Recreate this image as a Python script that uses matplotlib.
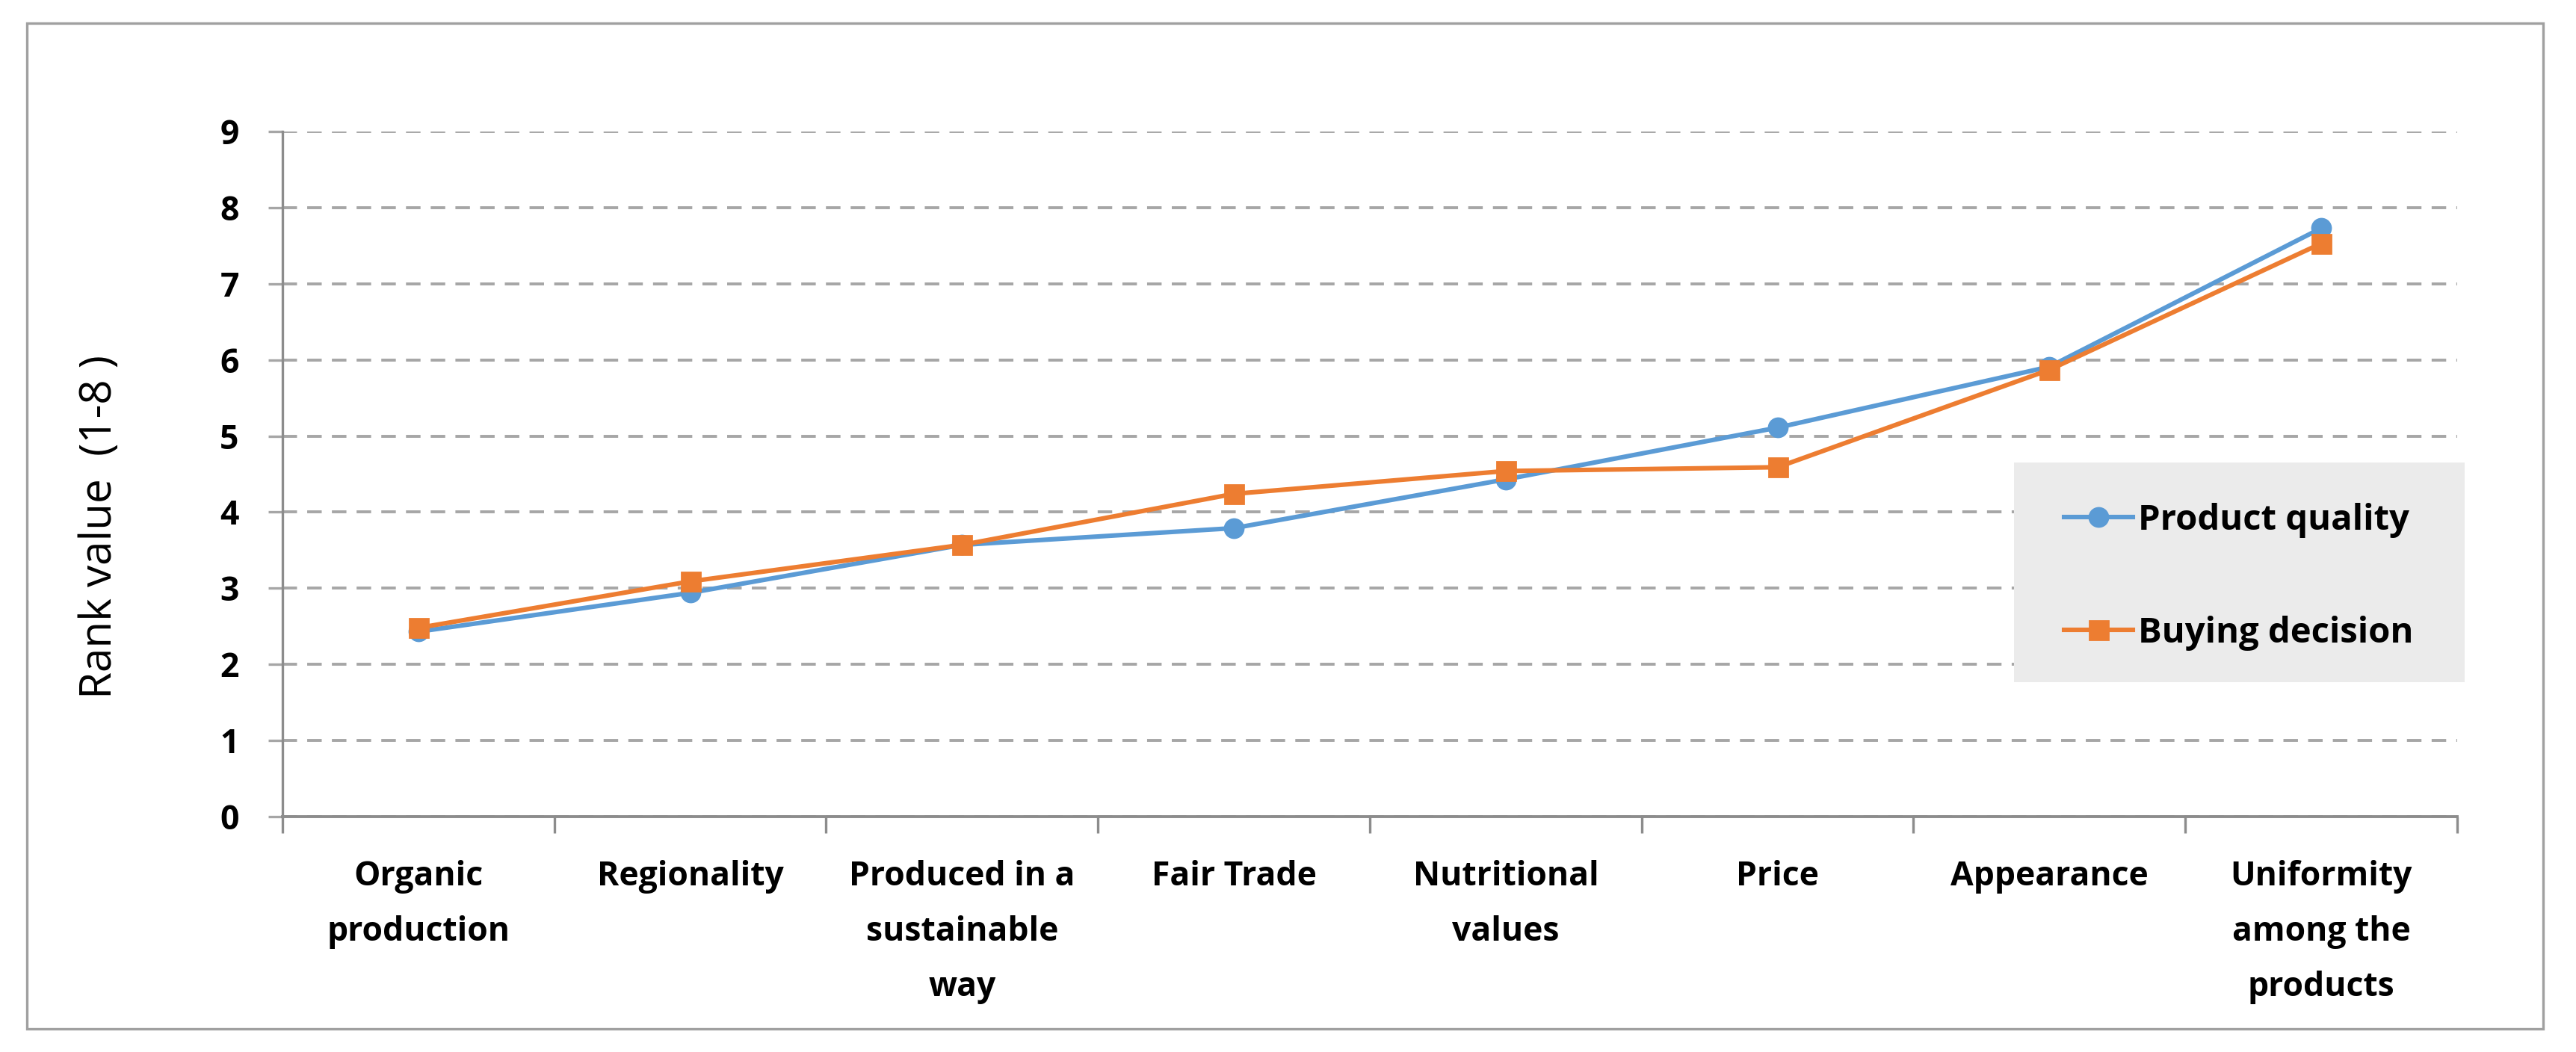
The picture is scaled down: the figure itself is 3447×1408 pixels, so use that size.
import matplotlib.pyplot as plt
from matplotlib.lines import Line2D
from matplotlib.patches import Rectangle

categories = [
    "Organic\nproduction",
    "Regionality",
    "Produced in a\nsustainable\nway",
    "Fair Trade",
    "Nutritional\nvalues",
    "Price",
    "Appearance",
    "Uniformity\namong the\nproducts",
]
product_quality = [2.43, 2.94, 3.57, 3.79, 4.43, 5.11, 5.91, 7.73]
buying_decision = [2.48, 3.09, 3.57, 4.24, 4.54, 4.59, 5.87, 7.53]
y_ticks = list(range(0, 10))

BLUE = "#5B9BD5"
ORANGE = "#ED7D31"
GRID = "#A6A6A6"
AXIS = "#8C8C8C"

plt.rcParams["font.family"] = ["Open Sans", "DejaVu Sans"]

W, H, DPI = 3448, 1408, 200
fig = plt.figure(figsize=(W / DPI, H / DPI), dpi=DPI)
ax = fig.add_axes([378 / W, 1 - 1093 / H, (3288 - 378) / W, (1093 - 176) / H])

x = list(range(len(categories)))
ax.plot(x, product_quality, color=BLUE, lw=2.2, marker="o", ms=9,
        label="Product quality", zorder=3)
ax.plot(x, buying_decision, color=ORANGE, lw=2.2, marker="s", ms=9,
        label="Buying decision", zorder=4)

ax.set_xlim(-0.5, len(categories) - 0.5)
ax.set_ylim(0, 9)
ax.set_yticks(y_ticks)
ax.set_yticklabels([str(v) for v in y_ticks], fontsize=16, fontweight="bold")

# labels at category centres, tick marks at category boundaries
ax.set_xticks(x)
ax.set_xticklabels(categories, fontsize=16, fontweight="bold", linespacing=1.85)
ax.set_xticks([i - 0.5 for i in range(len(categories) + 1)], minor=True)
ax.tick_params(axis="x", which="major", length=0, pad=21)
ax.tick_params(axis="x", which="minor", length=8, width=1.2, color=AXIS)
ax.tick_params(axis="y", length=7, width=1.2, color=GRID, pad=14)

ax.grid(axis="y", color=GRID, ls=(0, (5, 3.5)), lw=1.4)
ax.set_axisbelow(True)
for side in ["top", "right"]:
    ax.spines[side].set_visible(False)
ax.spines["left"].set_color(AXIS)
ax.spines["bottom"].set_color(AXIS)
ax.spines["left"].set_linewidth(1.2)
ax.spines["bottom"].set_linewidth(1.4)

fig.text(134 / W, 1 - 705 / H, "Rank value  (1-8 )", rotation=90,
         ha="center", va="center", fontsize=21)

# legend box (covers the gridlines like in the original)
fig.add_artist(Rectangle((2695 / W, 1 - 913 / H), (3298 - 2695) / W, (913 - 619) / H,
                         transform=fig.transFigure, facecolor="#EBEBEB",
                         edgecolor="none", zorder=5))
handles = [
    Line2D([], [], color=BLUE, lw=2.2, marker="o", ms=9),
    Line2D([], [], color=ORANGE, lw=2.2, marker="s", ms=9),
]
leg = fig.legend(handles, ["Product quality", "Buying decision"],
                 loc="upper left", bbox_to_anchor=(2762 / W, 1 - 673 / H),
                 frameon=False, borderpad=0, borderaxespad=0,
                 handlelength=1.95, handletextpad=0.15, labelspacing=2.2,
                 prop={"size": 17, "weight": "bold"})
leg.set_zorder(6)

# outer frame
fig.add_artist(Rectangle((36 / W, 1 - 1377 / H), (3403 - 36) / W, (1377 - 31) / H,
                         transform=fig.transFigure, facecolor="none",
                         edgecolor="#A0A0A0", lw=1.2, zorder=7))

fig.savefig("out.png", dpi=DPI)
